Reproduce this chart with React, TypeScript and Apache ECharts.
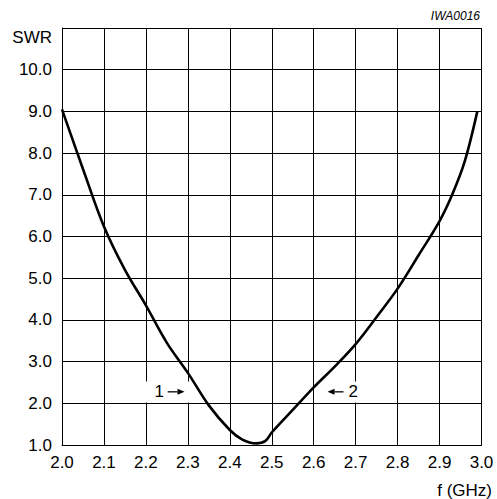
import React, { useEffect, useRef } from "react";
import * as echarts from "echarts";

const freqGHz = [2.0, 2.05, 2.1, 2.15, 2.2, 2.25, 2.3, 2.35, 2.4, 2.43, 2.463, 2.485, 2.5, 2.55, 2.6, 2.65, 2.7, 2.75, 2.8, 2.85, 2.9, 2.93, 2.96, 2.99];
const swrValues = [9.05, 7.62, 6.24, 5.2, 4.35, 3.45, 2.73, 1.95, 1.36, 1.13, 1.04, 1.1, 1.3, 1.84, 2.38, 2.88, 3.42, 4.07, 4.75, 5.55, 6.37, 7.0, 7.8, 9.0];

const xTicks = { min: 2.0, max: 3.0, interval: 0.1 };
const yTicks = { min: 1, max: 11, interval: 1 };

const markers = [
  { label: "1", textF: 2.2315, arrowFrom: 2.252, arrowTo: 2.292, swr: 2.275, boxFrom: 2.186, boxTo: 2.305 },
  { label: "2", textF: 2.694, arrowFrom: 2.671, arrowTo: 2.633, swr: 2.275, boxFrom: 2.625, boxTo: 2.72 },
];

const FONT = "'Liberation Sans', Arial, Helvetica, sans-serif";

export default function App() {
  const ref = useRef<HTMLDivElement>(null);
  useEffect(() => {
    if (!ref.current) return;
    const chart = echarts.init(ref.current, undefined, { renderer: "svg" });
    chart.setOption({
      animation: false,
      backgroundColor: "#fff",
      grid: { left: 62, right: 15.5, top: 28, bottom: 54, show: false },
      xAxis: {
        type: "value",
        min: xTicks.min,
        max: xTicks.max,
        interval: xTicks.interval,
        axisLine: { show: true, lineStyle: { color: "#000", width: 1 } },
        axisTick: { show: false },
        splitLine: { show: true, lineStyle: { color: "#000", width: 1 } },
        axisLabel: {
          margin: 9,
          color: "#000",
          fontSize: 17,
          fontFamily: FONT,
          formatter: (v: number) => v.toFixed(1),
        },
      },
      yAxis: {
        type: "value",
        min: yTicks.min,
        max: yTicks.max,
        interval: yTicks.interval,
        axisLine: { show: true, lineStyle: { color: "#000", width: 1 } },
        axisTick: { show: false },
        splitLine: { show: true, lineStyle: { color: "#000", width: 1 } },
        axisLabel: {
          margin: 10,
          color: "#000",
          fontSize: 17,
          fontFamily: FONT,
          formatter: (v: number) => (v >= yTicks.max ? "" : v.toFixed(1)),
        },
      },
      series: [
        {
          type: "line",
          data: freqGHz.map((f, i) => [f, swrValues[i]]),
          smooth: 0.35,
          showSymbol: false,
          lineStyle: { color: "#000", width: 2.6 },
          z: 5,
        },
      ],
    });

    const px = (f: number, s: number) => chart.convertToPixel({ gridIndex: 0 }, [f, s]) as number[];
    const graphics: any[] = [
      {
        type: "text",
        x: 52,
        y: 37.5,
        style: { text: "SWR", fill: "#000", font: `17px ${FONT}`, align: "right", verticalAlign: "middle" },
      },
      {
        type: "text",
        x: 480,
        y: 15.5,
        style: { text: "IWA0016", fill: "#000", font: `italic 12px ${FONT}`, align: "right", verticalAlign: "middle" },
      },
      {
        type: "text",
        x: 492,
        y: 490,
        style: { text: "f (GHz)", fill: "#000", font: `17px ${FONT}`, align: "right", verticalAlign: "middle" },
      },
    ];
    markers.forEach((m) => {
      const b1 = px(m.boxFrom, 2.52);
      const b2 = px(m.boxTo, 2.02);
      graphics.push({
        type: "rect",
        shape: { x: b1[0], y: b1[1], width: b2[0] - b1[0], height: b2[1] - b1[1] },
        style: { fill: "#fff" },
        z: 3,
      });
      const t = px(m.textF, m.swr);
      graphics.push({
        type: "text",
        x: t[0],
        y: t[1],
        style: { text: m.label, fill: "#000", font: `17px ${FONT}`, align: "center", verticalAlign: "middle" },
        z: 4,
      });
      const a = px(m.arrowFrom, m.swr);
      const b = px(m.arrowTo, m.swr);
      const dir = Math.sign(b[0] - a[0]);
      const headLen = 7;
      graphics.push({
        type: "line",
        shape: { x1: a[0], y1: a[1], x2: b[0] - dir * headLen, y2: b[1] },
        style: { stroke: "#000", lineWidth: 1.3 },
        z: 4,
      });
      graphics.push({
        type: "polygon",
        shape: {
          points: [
            [b[0], b[1]],
            [b[0] - dir * headLen, b[1] - 3],
            [b[0] - dir * headLen, b[1] + 3],
          ],
        },
        style: { fill: "#000" },
        z: 4,
      });
    });
    chart.setOption({ graphic: graphics });

    return () => chart.dispose();
  }, []);
  return <div ref={ref} style={{ width: 497, height: 499, position: "absolute", left: 0, top: 0 }} />;
}
